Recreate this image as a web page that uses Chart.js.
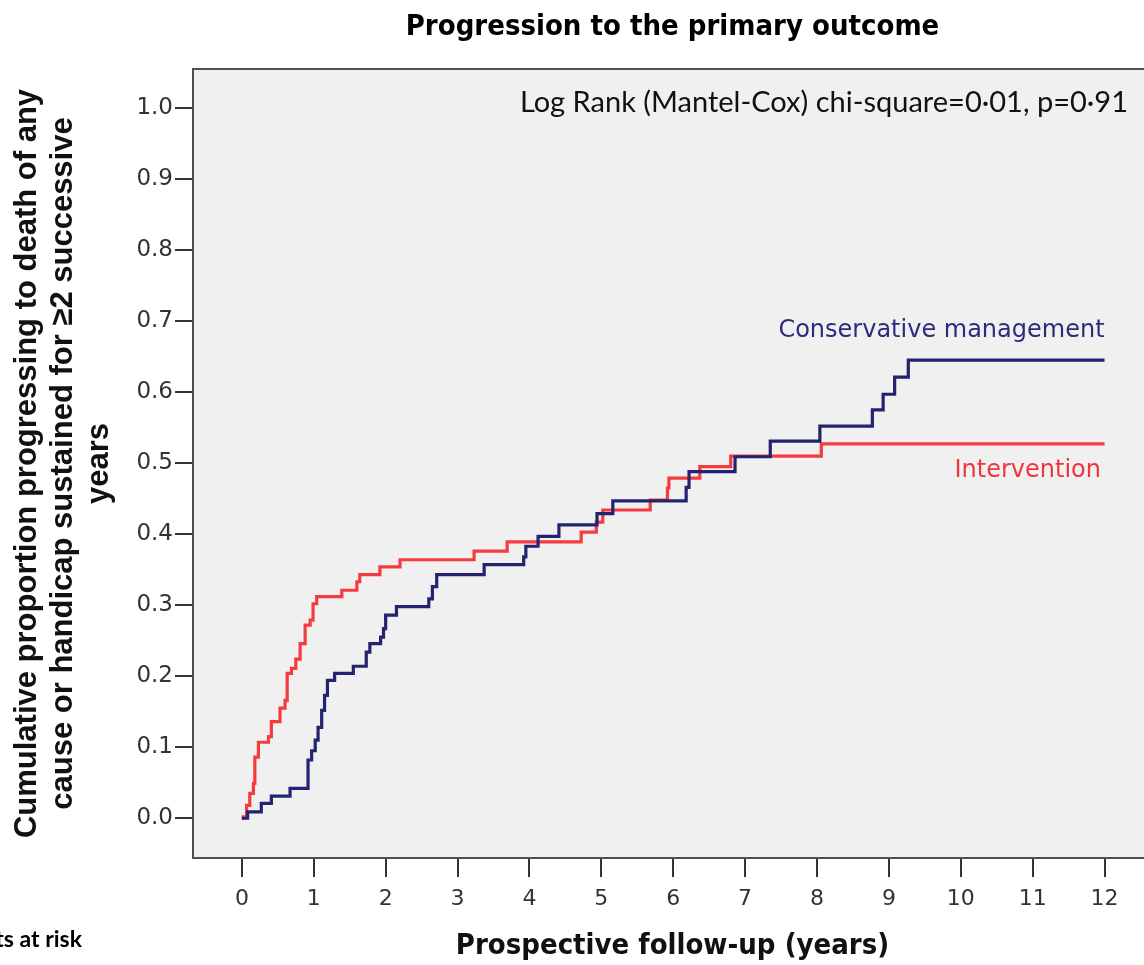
<!DOCTYPE html>
<html>
<head>
<meta charset="utf-8">
<script src="https://cdn.jsdelivr.net/npm/chart.js@4/dist/chart.umd.min.js"></script>
<style>
  html, body { margin: 0; padding: 0; background: #fff; overflow: hidden; }
  #wrap { width: 1160px; height: 965px; position: relative; }
</style>
</head>
<body>
<div id="wrap"><canvas id="kmChart"></canvas></div>
<script>
// Kaplan-Meier cumulative proportions
var interventionTimes = [0, 0.02, 0.065, 0.11, 0.16, 0.18, 0.23, 0.37, 0.41, 0.53, 0.60, 0.63, 0.69, 0.75, 0.81, 0.88, 0.95, 0.99, 1.04,
  1.39, 1.60, 1.64, 1.92, 2.20, 3.23, 3.69, 4.72, 4.93, 5.02, 5.68, 5.92, 5.94, 6.37, 6.80, 8.06, 12.0];
var interventionValues = [0, 0.002, 0.018, 0.035, 0.049, 0.086, 0.107, 0.115, 0.136, 0.155, 0.166, 0.204, 0.211, 0.224, 0.246, 0.272, 0.279, 0.302, 0.312,
  0.321, 0.333, 0.343, 0.354, 0.364, 0.376, 0.389, 0.403, 0.417, 0.434, 0.448, 0.465, 0.479, 0.495, 0.510, 0.527, 0.527];

var conservativeTimes = [0, 0.08, 0.27, 0.41, 0.67, 0.92, 0.97, 1.02, 1.06, 1.11, 1.15, 1.19, 1.29, 1.55, 1.73, 1.78, 1.93, 1.97, 2.00, 2.15,
  2.60, 2.65, 2.71, 3.37, 3.92, 3.95, 4.12, 4.41, 4.94, 5.16, 6.18, 6.22, 6.86, 7.35, 8.04, 8.77, 8.92, 9.08, 9.27, 12.0];
var conservativeValues = [0, 0.009, 0.021, 0.031, 0.042, 0.082, 0.095, 0.110, 0.128, 0.152, 0.173, 0.194, 0.204, 0.214, 0.234, 0.246, 0.255, 0.267, 0.286, 0.298,
  0.309, 0.326, 0.343, 0.357, 0.368, 0.383, 0.397, 0.413, 0.429, 0.447, 0.466, 0.488, 0.509, 0.531, 0.552, 0.575, 0.597, 0.621, 0.645, 0.645];

var xTicks = [0, 1, 2, 3, 4, 5, 6, 7, 8, 9, 10, 11, 12];
var yTicks = [0, 0.1, 0.2, 0.3, 0.4, 0.5, 0.6, 0.7, 0.8, 0.9, 1.0];

function toPoints(ts, vs) {
  return ts.map(function (t, i) { return { x: t, y: vs[i] }; });
}

// grey plot box, outline and text labels
var plotBox = {
  id: 'plotBox',
  beforeDraw: function (chart) {
    var a = chart.chartArea, c = chart.ctx;
    c.save();
    c.fillStyle = '#f0f0f0';
    c.fillRect(a.left, a.top, a.right - a.left, a.bottom - a.top);
    c.restore();
  },
  beforeDatasetsDraw: function (chart) {
    var a = chart.chartArea, c = chart.ctx;
    c.save();
    c.strokeStyle = '#505050';
    c.lineWidth = 2;
    c.strokeRect(a.left, a.top, a.right - a.left, a.bottom - a.top);
    c.restore();
  },
  afterDraw: function (chart) {
    var c = chart.ctx, x = chart.scales.x, y = chart.scales.y, a = chart.chartArea;
    c.save();
    c.textBaseline = 'middle';
    c.textAlign = 'right';
    c.fillStyle = '#111';
    c.font = '29px Lato';
    c.fillText('Log Rank (Mantel-Cox) chi-square=0\u00b701, p=0\u00b791', a.right - 24, a.top + 34);
    c.font = '24px "DejaVu Sans"';
    c.fillStyle = '#2c2c7c';
    c.fillText('Conservative management', x.getPixelForValue(12), y.getPixelForValue(0.686));
    c.fillStyle = '#f0363c';
    c.fillText('Intervention', x.getPixelForValue(11.95), y.getPixelForValue(0.489));
    c.fillStyle = '#000';
    c.font = 'bold 23px Lato';
    c.fillText('Patients at risk', 82, 940);
    c.restore();
  }
};

var ctx = document.getElementById('kmChart').getContext('2d');
var kmChart = new Chart(ctx, {
  type: 'line',
  data: {
    datasets: [{
      label: 'Conservative management',
      data: toPoints(conservativeTimes, conservativeValues),
      borderColor: '#23236f',
      borderWidth: 3.2,
      stepped: true,
      pointRadius: 0,
      fill: false
    }, {
      label: 'Intervention',
      data: toPoints(interventionTimes, interventionValues),
      borderColor: '#f53b3f',
      borderWidth: 3.2,
      stepped: true,
      pointRadius: 0,
      fill: false
    }]
  },
  options: {
    responsive: true,
    maintainAspectRatio: false,
    animation: false,
    layout: { padding: { left: 0, right: 8, top: 0, bottom: 0 } },
    plugins: {
      legend: { display: false },
      tooltip: { enabled: false },
      title: { display: false }
    },
    scales: {
      // top axis only carries the chart title, centred over the plot box
      xTop: {
        type: 'linear',
        position: 'top',
        min: -0.68,
        max: 12.66,
        afterFit: function (scale) { scale.height = 69; },
        grid: { display: false },
        border: { display: false },
        ticks: { display: false },
        title: {
          display: true,
          text: 'Progression to the primary outcome',
          color: '#000',
          font: { family: '"DejaVu Sans Condensed"', size: 29, weight: 'bold' },
          padding: { top: 9.6, bottom: 0 }
        }
      },
      x: {
        type: 'linear',
        min: -0.68,
        max: 12.66,
        afterBuildTicks: function (scale) {
          scale.ticks = xTicks.map(function (v) { return { value: v }; });
        },
        afterFit: function (scale) { scale.height = 107; },
        grid: { drawOnChartArea: false, drawTicks: true, tickLength: 19, color: '#333', lineWidth: 2 },
        border: { display: false },
        ticks: {
          color: '#333',
          font: { family: '"DejaVu Sans"', size: 22 },
          padding: 9,
          maxRotation: 0,
          callback: function (v) { return String(v); }
        },
        title: {
          display: true,
          text: 'Prospective follow-up (years)',
          color: '#111',
          font: { family: '"DejaVu Sans Condensed"', size: 29, weight: 'bold' },
          padding: { top: 0, bottom: 1 }
        }
      },
      y: {
        type: 'linear',
        min: -0.056,
        max: 1.055,
        afterBuildTicks: function (scale) {
          scale.ticks = yTicks.map(function (v) { return { value: v }; });
        },
        afterFit: function (scale) { scale.width = 193; },
        grid: { drawOnChartArea: false, drawTicks: true, tickLength: 18, color: '#333', lineWidth: 2 },
        border: { display: false },
        ticks: {
          color: '#333',
          font: { family: '"DejaVu Sans"', size: 23 },
          padding: 2,
          callback: function (v) { return v.toFixed(1); }
        },
        title: {
          display: true,
          text: ['Cumulative proportion progressing to death of any',
                 'cause or handicap sustained for \u22652 successive',
                 'years'],
          color: '#111',
          font: { family: '"Liberation Sans"', size: 31, weight: 'bold', lineHeight: 1.15 },
          padding: { top: 10, bottom: 0 }
        }
      }
    }
  },
  plugins: [plotBox]
});
</script>
</body>
</html>
